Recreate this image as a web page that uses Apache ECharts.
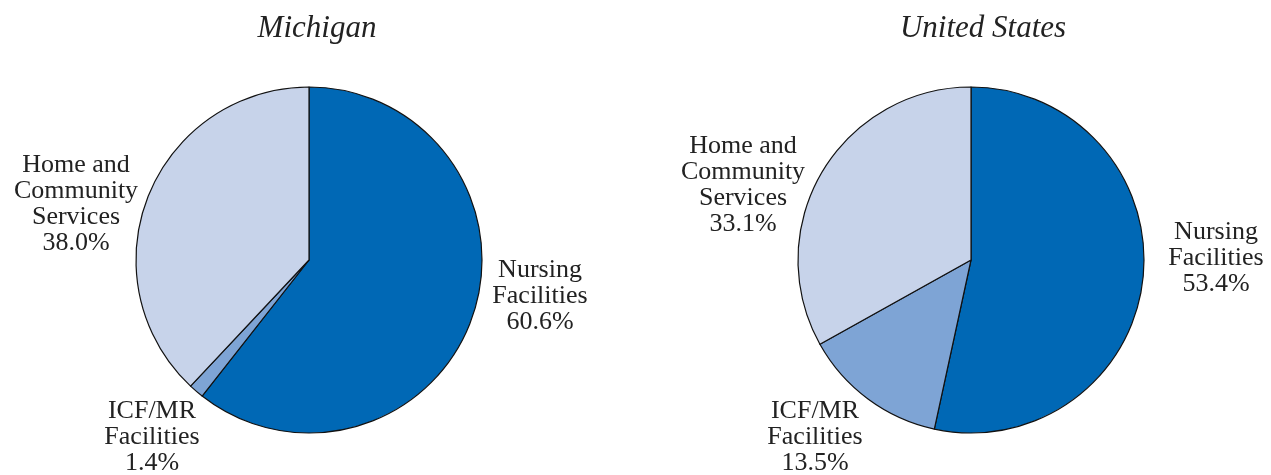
<!DOCTYPE html>
<html>
<head>
    <meta charset="utf-8">
    <title>Michigan / United States</title>
    <script src="https://cdn.jsdelivr.net/npm/echarts@6.0.0/dist/echarts.min.js"></script>
    <style>
        body { margin: 0; background: #fff; }
        #chart { width: 1271px; height: 475px; }
    </style>
</head>
<body>
    <div id="chart"></div>
    <script>
        // 数据
        var categories = ['Nursing\nFacilities', 'ICF/MR\nFacilities', 'Home and\nCommunity\nServices'];
        var michiganValues = [60.6, 1.4, 38.0];
        var usValues = [53.4, 13.5, 33.1];
        var colors = ['#0068b5', '#7ea4d5', '#c7d3ea'];

        // 标签位置 (样式)
        var labelPos = [
            [[540, 296], [152, 437], [76, 204]],
            [[1216, 258], [815, 437], [743, 185]]
        ];

        var myChart = echarts.init(document.getElementById('chart'));

        function makeData(values) {
            return categories.map(function (c, i) {
                return { name: c, value: values[i], itemStyle: { color: colors[i] } };
            });
        }

        function makeSeries(values, center, idx) {
            return {
                type: 'pie',
                center: center,
                radius: 173,
                startAngle: 90,
                clockwise: true,
                silent: true,
                animation: false,
                data: makeData(values),
                itemStyle: { borderColor: '#111', borderWidth: 1.2 },
                label: {
                    show: true,
                    position: 'outside',
                    overflow: 'none',
                    fontFamily: 'Liberation Serif',
                    fontSize: 26,
                    lineHeight: 26,
                    color: '#222',
                    align: 'center',
                    formatter: function (p) { return p.name + '\n' + p.value.toFixed(1) + '%'; }
                },
                labelLine: { show: false },
                labelLayout: function (p) {
                    var pos = labelPos[idx][p.dataIndex];
                    return { x: pos[0], y: pos[1], align: 'center', verticalAlign: 'middle', width: 300 };
                }
            };
        }

        var titleStyle = { fontFamily: 'Liberation Serif', fontStyle: 'italic', fontWeight: 'normal', fontSize: 31, color: '#222' };

        var option = {
            backgroundColor: '#fff',
            title: [
                { text: 'Michigan', left: 312, top: 8, textAlign: 'center', textStyle: titleStyle },
                { text: 'United States', left: 978, top: 8, textAlign: 'center', textStyle: titleStyle }
            ],
            series: [
                makeSeries(michiganValues, [309, 260], 0),
                makeSeries(usValues, [971, 260], 1)
            ]
        };

        myChart.setOption(option);
    </script>
</body>
</html>
